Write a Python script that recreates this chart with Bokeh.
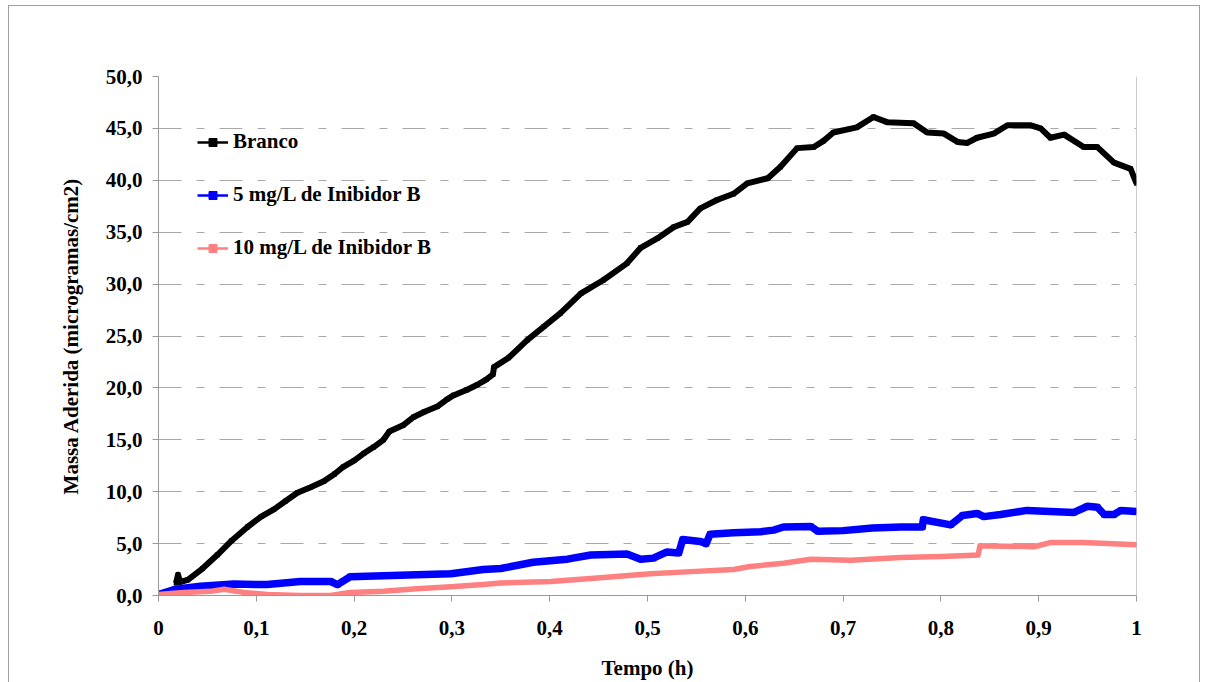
from bokeh.plotting import figure
from bokeh.models import (Range1d, FixedTicker, Span, Legend, LegendItem,
                          ColumnDataSource, InlineStyleSheet)
from bokeh.embed import file_html
from bokeh.resources import INLINE

# ---- data -------------------------------------------------------------
branco_t = [0.018, 0.020, 0.022, 0.030, 0.045, 0.060, 0.075, 0.091, 0.105, 0.118,
            0.130, 0.142, 0.155, 0.169, 0.180, 0.189, 0.200, 0.210, 0.220, 0.230,
            0.236, 0.250, 0.261, 0.272, 0.285, 0.295, 0.302, 0.315, 0.326, 0.335,
            0.342, 0.343, 0.358, 0.377, 0.394, 0.411, 0.432, 0.455, 0.479, 0.493,
            0.510, 0.527, 0.541, 0.554, 0.571, 0.588, 0.602, 0.623, 0.636, 0.653,
            0.670, 0.680, 0.690, 0.714, 0.731, 0.745, 0.772, 0.786, 0.803, 0.817,
            0.827, 0.837, 0.854, 0.868, 0.892, 0.902, 0.912, 0.926, 0.946, 0.960,
            0.977, 0.994, 1.000]
branco_m = [1.2, 2.0, 1.3, 1.5, 2.6, 3.9, 5.3, 6.6, 7.6, 8.3,
            9.1, 9.9, 10.4, 11.0, 11.7, 12.4, 13.0, 13.7, 14.3, 15.0,
            15.8, 16.4, 17.2, 17.7, 18.2, 18.9, 19.3, 19.8, 20.3, 20.8,
            21.3, 22.0, 22.9, 24.6, 25.9, 27.2, 29.1, 30.4, 32.0, 33.5,
            34.4, 35.5, 36.0, 37.3, 38.1, 38.7, 39.7, 40.2, 41.3, 43.1,
            43.2, 43.8, 44.6, 45.1, 46.1, 45.6, 45.5, 44.6, 44.5, 43.7,
            43.6, 44.1, 44.5, 45.3, 45.3, 45.0, 44.1, 44.4, 43.2, 43.2,
            41.7, 41.1, 39.7]

inib5_t = [0.000, 0.017, 0.043, 0.077, 0.111, 0.145, 0.176, 0.183, 0.196, 0.230,
           0.264, 0.299, 0.332, 0.350, 0.383, 0.418, 0.442, 0.479, 0.493, 0.506,
           0.520, 0.532, 0.536, 0.554, 0.560, 0.564, 0.588, 0.616, 0.629, 0.639,
           0.667, 0.674, 0.700, 0.730, 0.759, 0.781, 0.782, 0.810, 0.822, 0.837,
           0.844, 0.861, 0.888, 0.912, 0.936, 0.950, 0.960, 0.967, 0.977, 0.984,
           1.000]
inib5_m = [0.1, 0.6, 0.9, 1.1, 1.05, 1.35, 1.35, 1.05, 1.8, 1.9,
           2.0, 2.1, 2.5, 2.6, 3.2, 3.5, 3.9, 4.0, 3.5, 3.6,
           4.2, 4.1, 5.4, 5.2, 5.0, 5.9, 6.05, 6.15, 6.3, 6.6,
           6.65, 6.2, 6.25, 6.5, 6.6, 6.6, 7.3, 6.8, 7.7, 7.9,
           7.6, 7.8, 8.2, 8.1, 8.0, 8.6, 8.5, 7.8, 7.8, 8.2,
           8.1]

inib10_t = [0.000, 0.026, 0.053, 0.067, 0.087, 0.111, 0.145, 0.176, 0.196, 0.230,
            0.264, 0.299, 0.332, 0.350, 0.401, 0.452, 0.503, 0.544, 0.588, 0.605,
            0.639, 0.667, 0.708, 0.759, 0.800, 0.827, 0.838, 0.840, 0.895, 0.912,
            0.946, 1.000]
inib10_m = [0.1, 0.3, 0.4, 0.6, 0.3, 0.1, 0.0, 0.0, 0.3, 0.4,
            0.65, 0.85, 1.05, 1.2, 1.35, 1.7, 2.1, 2.3, 2.5, 2.8,
            3.1, 3.5, 3.4, 3.65, 3.75, 3.85, 3.9, 4.8, 4.7, 5.1,
            5.1, 4.9]

series_labels = ["Branco", "5 mg/L de Inibidor B", "10 mg/L de Inibidor B"]
x_ticks = [0, 0.1, 0.2, 0.3, 0.4, 0.5, 0.6, 0.7, 0.8, 0.9, 1]
x_tick_labels = ["0", "0,1", "0,2", "0,3", "0,4", "0,5", "0,6", "0,7", "0,8", "0,9", "1"]
y_ticks = [0, 5, 10, 15, 20, 25, 30, 35, 40, 45, 50]
y_tick_labels = ["0,0", "5,0", "10,0", "15,0", "20,0", "25,0", "30,0", "35,0",
                 "40,0", "45,0", "50,0"]

FONT = "Liberation Serif"
AXIS_GREY = "#999999"
GRID_GREY = "#a8a8a8"

# thin grey frame around the whole chart area
chart_border = InlineStyleSheet(css="""
:host { position: relative; }
:host::after {
  content: ""; position: absolute; left: 8px; top: 5px;
  width: 1192px; height: 720px; box-sizing: border-box;
  border: 1px solid #a0a0a0; pointer-events: none;
}
""")

# ---- figure -----------------------------------------------------------
p = figure(width=1205, height=682, output_backend="svg", toolbar_location=None,
           x_range=Range1d(0, 1), y_range=Range1d(0, 50),
           min_border_left=158, min_border_right=69,
           min_border_top=76, min_border_bottom=86,
           stylesheets=[chart_border])
p.outline_line_color = None
p.background_fill_color = "white"
p.border_fill_color = "white"

p.xgrid.grid_line_color = None
p.ygrid.grid_line_color = GRID_GREY
p.ygrid.grid_line_dash = "23 15 8 15"
p.ygrid.grid_line_width = 1

for ax in (p.xaxis[0], p.yaxis[0]):
    ax.axis_line_color = AXIS_GREY
    ax.major_tick_line_color = AXIS_GREY
    ax.major_tick_out = 6
    ax.major_tick_in = 0
    ax.minor_tick_line_color = None
    ax.major_label_text_font = FONT
    ax.major_label_text_font_style = "bold"
    ax.major_label_text_font_size = "21px"
    ax.major_label_text_color = "black"
    ax.axis_label_text_font = FONT
    ax.axis_label_text_font_style = "bold"
    ax.axis_label_text_font_size = "21px"
    ax.axis_label_text_color = "black"

p.xaxis.ticker = FixedTicker(ticks=x_ticks)
p.xaxis.major_label_overrides = dict(zip(x_ticks, x_tick_labels))
p.xaxis.major_label_standoff = 19
p.xaxis.axis_label = "Tempo (h)"
p.xaxis.axis_label_standoff = 18

p.yaxis.ticker = FixedTicker(ticks=y_ticks)
p.yaxis.major_label_overrides = dict(zip(y_ticks, y_tick_labels))
p.yaxis.major_label_standoff = 10
p.yaxis.axis_label = "Massa Aderida (microgramas/cm2)"
p.yaxis.axis_label_standoff = 20

# right edge of the plot area
p.add_layout(Span(location=1, dimension="height", line_color=AXIS_GREY, line_width=1))

# ---- series -----------------------------------------------------------
styles = [
    (branco_t, branco_m, "black", 6),
    (inib5_t, inib5_m, "#0000ff", 7.5),
    (inib10_t, inib10_m, "#ff8080", 5.5),
]
for t, m, c, w in styles:
    src = ColumnDataSource(dict(t=t, m=m))
    p.line("t", "m", source=src, line_color=c, line_width=w, line_join="round")
    p.scatter("t", "m", source=src, marker="square", size=w * 0.8, fill_color=c,
              line_color=None)

# legend swatches: thin line with a small square marker (kept off-frame)
items = []
for label, (c, ms) in zip(series_labels, [("black", 5), ("#0000ff", 7), ("#ff8080", 5)]):
    lr = p.line([2, 3], [100, 100], line_color=c, line_width=2.5)
    mr = p.scatter([2], [100], marker="square", size=ms, fill_color=c, line_color=c)
    items.append(LegendItem(label=label, renderers=[lr, mr]))

legend = Legend(items=items, location=(39, 335), orientation="vertical",
                border_line_alpha=0, background_fill_alpha=0,
                label_text_font=FONT, label_text_font_style="bold",
                label_text_font_size="21px", label_text_color="black",
                glyph_width=31, glyph_height=20, label_height=20,
                label_standoff=5, spacing=28, padding=0, margin=0)
p.add_layout(legend)

open("out.html", "w").write(file_html(p, INLINE))
